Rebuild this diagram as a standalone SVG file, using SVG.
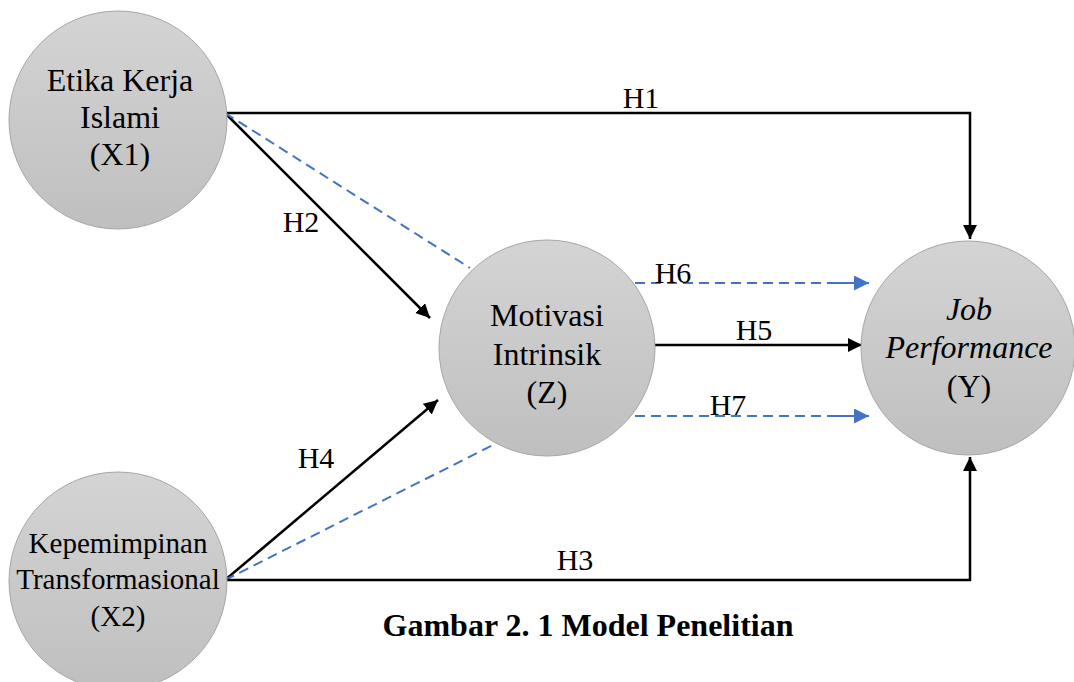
<svg xmlns="http://www.w3.org/2000/svg" width="1074" height="682" viewBox="0 0 1074 682">
  <defs>
    <linearGradient id="g" x1="0" y1="0" x2="0" y2="1">
      <stop offset="0" stop-color="#d4d4d4"/>
      <stop offset="1" stop-color="#bfbfbf"/>
    </linearGradient>
    <marker id="ab" markerUnits="userSpaceOnUse" markerWidth="15" markerHeight="15" refX="14" refY="7" orient="auto">
      <path d="M0,0 L14,7 L0,14 z" fill="#000"/>
    </marker>
    <marker id="au" markerUnits="userSpaceOnUse" markerWidth="16" markerHeight="16" refX="15" refY="7.5" orient="auto">
      <path d="M0,0 L15,7.5 L0,15 z" fill="#4472c4"/>
    </marker>
    <style>
      .node circle { fill: url(#g); stroke: #a6a6a6; stroke-width: 1; }
      .t { font-family: "Liberation Serif", "Times New Roman", serif; fill: #000; text-anchor: middle; }
      .n { font-size: 32px; }
      .ni { font-size: 32px; font-style: italic; }
      .n2 { font-size: 29px; }
      .lbl { font-size: 30px; }
      .cap { font-size: 32px; font-weight: bold; }
      .blk { fill: none; stroke: #000; stroke-width: 2.5; }
      .blu { fill: none; stroke: #4472c4; stroke-width: 2; stroke-dasharray: 10 6; }
      .blus { fill: none; stroke: #4472c4; stroke-width: 2; }
    </style>
  </defs>

  <g id="connectors">
    <path class="blk" d="M225,113 H970 V239" marker-end="url(#ab)"/>
    <path class="blk" d="M225,113 L430,318" marker-end="url(#ab)"/>
    <path class="blu" d="M225,113 L470,268"/>
    <path class="blk" d="M225,580 L438,400" marker-end="url(#ab)"/>
    <path class="blu" d="M225,580 L497,443"/>
    <path class="blk" d="M225,580 H970 V457" marker-end="url(#ab)"/>
    <path class="blk" d="M655,345 H862" marker-end="url(#ab)"/>
    <path class="blu" d="M635,283 H830"/>
    <path class="blus" d="M830,283 H869" marker-end="url(#au)"/>
    <path class="blu" d="M635,416 H830"/>
    <path class="blus" d="M830,416 H869" marker-end="url(#au)"/>
  </g>

  <g id="X1" class="node">
    <circle cx="118" cy="120" r="109"/>
    <text class="t n" x="120" y="91">Etika Kerja</text>
    <text class="t n" x="120" y="128">Islami</text>
    <text class="t n" x="120" y="165">(X1)</text>
  </g>

  <g id="X2" class="node">
    <circle cx="118" cy="581" r="109"/>
    <text class="t n2" x="118" y="553">Kepemimpinan</text>
    <text class="t n2" x="118" y="589">Transformasional</text>
    <text class="t n2" x="118" y="626">(X2)</text>
  </g>

  <g id="Z" class="node">
    <circle cx="547" cy="348" r="108"/>
    <text class="t n" x="547" y="326">Motivasi</text>
    <text class="t n" x="547" y="365">Intrinsik</text>
    <text class="t n" x="547" y="403">(Z)</text>
  </g>

  <g id="Y" class="node">
    <circle cx="968" cy="348" r="107"/>
    <text class="t ni" x="969" y="320">Job</text>
    <text class="t ni" x="969" y="358">Performance</text>
    <text class="t n" x="969" y="397">(Y)</text>
  </g>

  <g id="labels">
    <text class="t lbl" x="641" y="108">H1</text>
    <text class="t lbl" x="301" y="232">H2</text>
    <text class="t lbl" x="575" y="570">H3</text>
    <text class="t lbl" x="316" y="468">H4</text>
    <text class="t lbl" x="754" y="340">H5</text>
    <text class="t lbl" x="673" y="283">H6</text>
    <text class="t lbl" x="728" y="415">H7</text>
    <text class="t cap" x="588" y="636">Gambar 2. 1 Model Penelitian</text>
  </g>
</svg>
